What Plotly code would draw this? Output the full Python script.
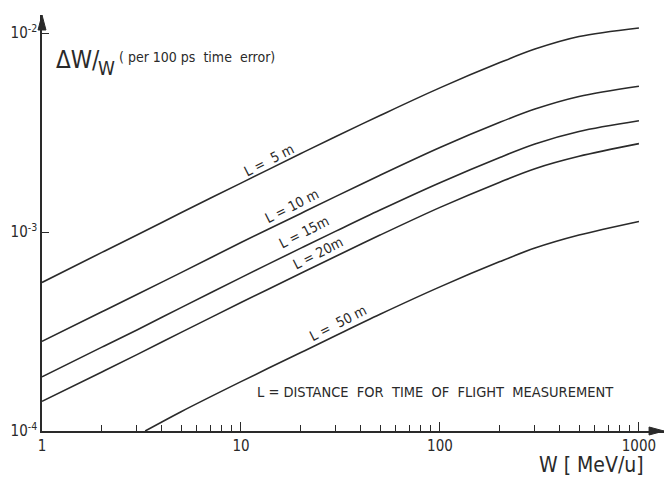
import plotly.graph_objects as go
import numpy as np

# Energy W [MeV/u]
W = [1, 2, 3, 5, 10, 20, 30, 50, 100, 200, 300, 500, 1000]
# dW/W per 100 ps time error
L5 = [5.58e-4, 7.9e-4, 9.65e-4, 1.25e-3, 1.76e-3, 2.48e-3, 3.02e-3, 3.85e-3, 5.3e-3, 7.1e-3, 8.3e-3, 9.6e-3, 1.06e-2]
L10 = [2.82e-4, 3.97e-4, 4.85e-4, 6.25e-4, 8.85e-4, 1.24e-3, 1.51e-3, 1.93e-3, 2.66e-3, 3.56e-3, 4.15e-3, 4.8e-3, 5.4e-3]
L15 = [1.87e-4, 2.64e-4, 3.22e-4, 4.17e-4, 5.9e-4, 8.3e-4, 1.01e-3, 1.29e-3, 1.77e-3, 2.37e-3, 2.77e-3, 3.2e-3, 3.62e-3]
L20 = [1.41e-4, 1.98e-4, 2.42e-4, 3.13e-4, 4.42e-4, 6.2e-4, 7.55e-4, 9.65e-4, 1.33e-3, 1.78e-3, 2.08e-3, 2.4e-3, 2.78e-3]
W50 = [3.3, 5, 10, 20, 30, 50, 100, 200, 300, 500, 1000]
L50 = [1.0e-4, 1.25e-4, 1.77e-4, 2.48e-4, 3.02e-4, 3.86e-4, 5.3e-4, 7.1e-4, 8.3e-4, 9.65e-4, 1.13e-3]

curve_labels = ["L =  5 m", "L = 10 m", "L = 15m", "L = 20m", "L =  50 m"]
label_W = [13.8, 18.0, 20.7, 24.4, 30.7]
label_V = [2.3e-3, 1.35e-3, 1.0e-3, 7.85e-4, 3.49e-4]

x_major = [1, 10, 100, 1000]
x_major_text = ["1", "10", "100", "1000"]
x_minor = [2, 3, 4, 5, 6, 7, 8, 9, 20, 30, 40, 50, 60, 70, 80, 90, 200, 300, 400, 500, 600, 700, 800, 900]
y_ticks = [1e-4, 1e-3, 1e-2]
y_ticktext = ["10<sup>-4</sup>", "10<sup>-3</sup>", "10<sup>-2</sup>"]

FONT = "DejaVu Sans Condensed, DejaVu Sans, sans-serif"
INK = "#2a2a2a"

fig = go.Figure()
for xs, ys in [(W, L5), (W, L10), (W, L15), (W, L20), (W50, L50)]:
    fig.add_trace(go.Scatter(x=xs, y=ys, mode="lines", line=dict(color=INK, width=1.6, shape="spline", smoothing=0.9),
                             hoverinfo="skip", showlegend=False))

for t, xw, yv in zip(curve_labels, label_W, label_V):
    fig.add_annotation(x=np.log10(xw), y=np.log10(yv), xref="x", yref="y", text=t, showarrow=False,
                       textangle=-27, font=dict(family=FONT, size=14, color=INK))

fig.add_annotation(x=np.log10(95), y=np.log10(1.57e-4), xref="x", yref="y",
                   text="L = DISTANCE  FOR  TIME  OF  FLIGHT  MEASUREMENT", showarrow=False,
                   font=dict(family=FONT, size=14.5, color=INK))

# y-axis title pieces
fig.add_annotation(x=0.06, y=-2.136, xref="x", yref="y", xanchor="left",
                   text="ΔW/", showarrow=False, font=dict(family=FONT, size=24, color=INK))
fig.add_annotation(x=0.272, y=-2.178, xref="x", yref="y", xanchor="left",
                   text="W", showarrow=False, font=dict(family=FONT, size=19, color=INK))
fig.add_annotation(x=0.375, y=-2.121, xref="x", yref="y", xanchor="left",
                   text="( per 100 ps  time  error)", showarrow=False, font=dict(family=FONT, size=14, color=INK))

# x-axis title
fig.add_annotation(x=0.884, y=-0.082, xref="paper", yref="paper", xanchor="center", yanchor="middle",
                   text="W [ MeV/u]", showarrow=False, font=dict(family=FONT, size=21, color=INK))

# arrow heads
fig.add_shape(type="path", xref="paper", yref="paper", path="M1,0 L0.976,0.0096 L0.976,-0.0096 Z",
              fillcolor=INK, line=dict(color=INK, width=1))
fig.add_shape(type="path", xref="paper", yref="paper", path="M0,1 L0.0064,0.964 L-0.0064,0.964 Z",
              fillcolor=INK, line=dict(color=INK, width=1))

fig.update_xaxes(type="log", range=[0, 3.126], showline=True, linecolor=INK, linewidth=1.6,
                 showgrid=False, zeroline=False, tickmode="array", tickvals=x_major, ticktext=x_major_text,
                 ticks="inside", ticklen=9, tickwidth=1.2, tickcolor=INK,
                 tickfont=dict(family=FONT, size=15, color=INK),
                 minor=dict(tickvals=x_minor, ticks="inside", ticklen=6, tickwidth=1.2, tickcolor=INK, showgrid=False))
fig.update_yaxes(type="log", range=[-4, -1.9095], showline=True, linecolor=INK, linewidth=1.6,
                 showgrid=False, zeroline=False, tickmode="array", tickvals=y_ticks, ticktext=y_ticktext,
                 ticks="inside", ticklen=7, tickwidth=1.2, tickcolor=INK,
                 tickfont=dict(family=FONT, size=15, color=INK))

fig.update_layout(width=666, height=477, margin=dict(l=42, r=2, t=15, b=46),
                  paper_bgcolor="white", plot_bgcolor="white")

fig.write_html("out.html")
